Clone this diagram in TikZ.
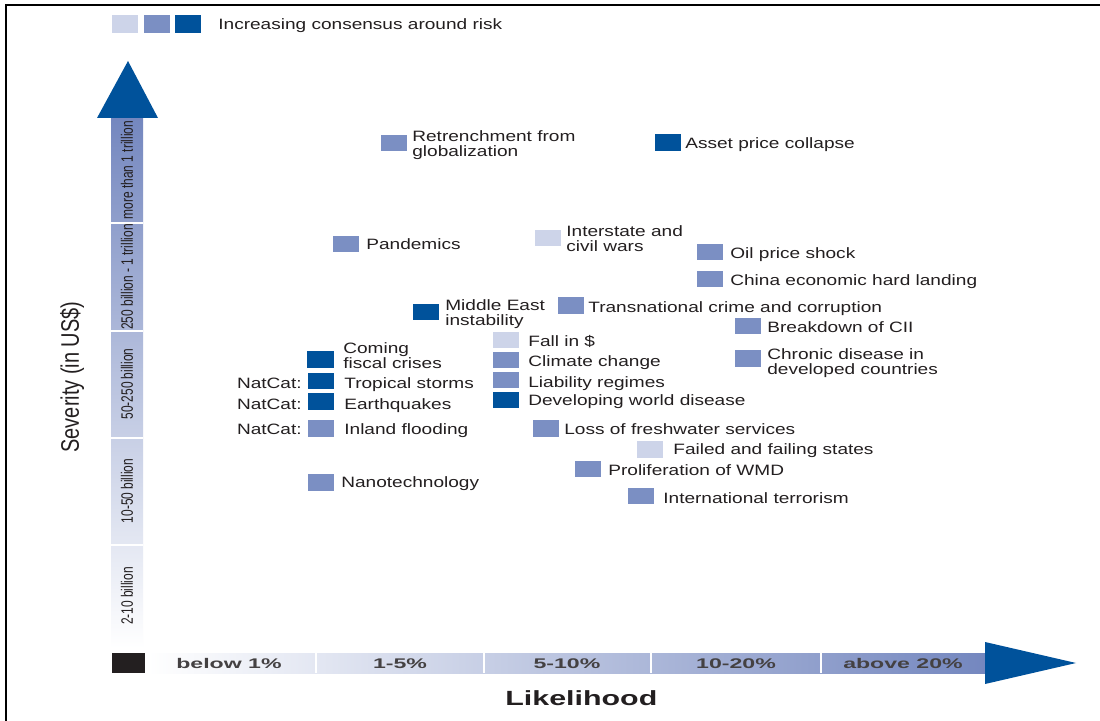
\documentclass[tikz,border=0pt]{standalone}
\usepackage{fontspec}
\setmainfont{Liberation Sans}
\usepackage{xcolor}

\definecolor{conslow}{HTML}{CDD4E9}
\definecolor{consmid}{HTML}{7B8FC3}
\definecolor{conshigh}{HTML}{00529B}
\definecolor{bardark}{HTML}{7487BF}
\definecolor{inkgray}{HTML}{231F20}

\begin{document}
\begin{tikzpicture}[
  x=0.025cm, y=-0.025cm,
  font=\fontsize{10.67}{10.67}\selectfont,
  riskbox/.style={rectangle, minimum width=0.65cm, minimum height=0.42cm,
    inner sep=0pt, outer sep=0pt},
  lowcons/.style={riskbox, fill=conslow},
  midcons/.style={riskbox, fill=consmid},
  highcons/.style={riskbox, fill=conshigh},
  risklbl/.style={anchor=base west, inner sep=0pt, xscale=1.27, text=inkgray},
  risklbltwo/.style={anchor=north west, inner sep=0pt, xscale=1.27,
    align=left, text=inkgray},
  natlbl/.style={anchor=base east, inner sep=0pt, xscale=1.27, text=inkgray},
  bandlbl/.style={rotate=90, inner sep=0pt, text=inkgray,
    font=\fontsize{9.25}{9.25}\selectfont},
  scalelbl/.style={anchor=base, inner sep=0pt, xscale=1.65, text=inkgray!85,
    font=\bfseries\fontsize{9.96}{9.96}\selectfont},
  bandsep/.style={white, line width=0.04cm}
]
\useasboundingbox (0,0) rectangle (1100,721);
\fill[white] (0,0) rectangle (1100,721);

% frame (only left and top edges are visible)
\draw[line width=0.05cm] (6,740) -- (6,5) -- (1120,5);

% =========================================================================
% Legend
% =========================================================================
\node[riskbox, fill=conslow,  minimum width=0.66cm, minimum height=0.45cm] (leglow)  at (125,24) {};
\node[riskbox, fill=consmid,  minimum width=0.64cm, minimum height=0.45cm] (legmid)  at (157,24) {};
\node[riskbox, fill=conshigh, minimum width=0.66cm, minimum height=0.45cm] (leghigh) at (188,24) {};
\node[risklbl] (legtxt) at (218,30) {Increasing consensus around risk};

% =========================================================================
% Axes
% =========================================================================
% severity bar
\shade[bottom color=white, top color=bardark] (111,118) rectangle (143,648);
\foreach \yy in {223,331,438,545}
  \draw[bandsep] (111,\yy) -- (143,\yy);
\fill[conshigh] (97,118) -- (158,118) -- (128,61) -- cycle;

\node[bandlbl] (sev1) at (127,170) {\scalebox{0.92}[1.27]{more than 1 trillion}};
\node[bandlbl] (sev2) at (127,277) {\scalebox{0.92}[1.27]{250 billion - 1 trillion}};
\node[bandlbl] (sev3) at (127,384) {\scalebox{0.92}[1.27]{50-250 billion}};
\node[bandlbl] (sev4) at (127,491) {\scalebox{0.92}[1.27]{10-50 billion}};
\node[bandlbl] (sev5) at (127,596) {\scalebox{0.92}[1.27]{2-10 billion}};

\node[rotate=90, inner sep=0pt, text=inkgray, font=\fontsize{14.2}{14.2}\selectfont]
  (sevtitle) at (72,377) {\scalebox{1}[1.27]{Severity (in US\$)}};

% likelihood bar
\fill[inkgray] (112,653) rectangle (145,673);
\shade[left color=white, right color=bardark] (148,653) rectangle (985,673);
\foreach \xx in {316,484,651,821}
  \draw[bandsep] (\xx,653) -- (\xx,673);
\fill[conshigh] (985,642) -- (985,684) -- (1076,663) -- cycle;

\node[scalelbl] (lik1) at (229,668) {below 1\%};
\node[scalelbl] (lik2) at (400,668) {1-5\%};
\node[scalelbl] (lik3) at (567,668) {5-10\%};
\node[scalelbl] (lik4) at (736,668) {10-20\%};
\node[scalelbl] (lik5) at (903,668) {above 20\%};

\node[anchor=base west, inner sep=0pt, xscale=1.48, text=inkgray,
  font=\bfseries\fontsize{14.6}{14.6}\selectfont] (liktitle) at (505,705) {Likelihood};

% =========================================================================
% Risks
% =========================================================================
\node[midcons]  (retrench) at (394,143) {};
\node[risklbltwo] (retrenchtxt) at (412,130.5) {Retrenchment from\\globalization};

\node[highcons] (asset) at (667.5,142.5) {};
\node[risklbl] (assettxt) at (685,148.5) {Asset price collapse};

\node[midcons]  (pandemic) at (346,244) {};
\node[risklbl] (pandemictxt) at (366,250) {Pandemics};

\node[lowcons]  (wars) at (547.5,238) {};
\node[risklbltwo] (warstxt) at (566,225.5) {Interstate and\\civil wars};

\node[midcons]  (oil) at (710,252) {};
\node[risklbl] (oiltxt) at (730,259) {Oil price shock};

\node[midcons]  (china) at (710,279) {};
\node[risklbl] (chinatxt) at (730,286) {China economic hard landing};

\node[highcons] (mideast) at (426,312) {};
\node[risklbltwo] (mideasttxt) at (445,299.5) {Middle East\\instability};

\node[midcons]  (crime) at (571,305.5) {};
\node[risklbl] (crimetxt) at (588,313) {Transnational crime and corruption};

\node[midcons]  (cii) at (748,326) {};
\node[risklbl] (ciitxt) at (767,333) {Breakdown of CII};

\node[midcons]  (chronic) at (748,358.5) {};
\node[risklbltwo] (chronictxt) at (767,348.5) {Chronic disease in\\developed countries};

\node[highcons] (fiscal) at (320.5,359.5) {};
\node[risklbltwo] (fiscaltxt) at (343,342.5) {Coming\\fiscal crises};

\node[highcons] (storms) at (321,381) {};
\node[risklbl] (stormstxt) at (344,389) {Tropical storms};
\node[natlbl] (stormsnat) at (302,389) {NatCat:};

\node[highcons] (quakes) at (321,401.5) {};
\node[risklbl] (quakestxt) at (344,410) {Earthquakes};
\node[natlbl] (quakesnat) at (302,410) {NatCat:};

\node[midcons]  (flood) at (321,428.5) {};
\node[risklbl] (floodtxt) at (344,435) {Inland flooding};
\node[natlbl] (floodnat) at (302,435) {NatCat:};

\node[midcons]  (nano) at (321,482.5) {};
\node[risklbl] (nanotxt) at (341,488) {Nanotechnology};

\node[lowcons]  (dollar) at (506,340) {};
\node[risklbl] (dollartxt) at (528,347) {Fall in \$};

\node[midcons]  (climate) at (506,360) {};
\node[risklbl] (climatetxt) at (528,367) {Climate change};

\node[midcons]  (liability) at (506,380) {};
\node[risklbl] (liabilitytxt) at (528,388) {Liability regimes};

\node[highcons] (devdisease) at (506,400) {};
\node[risklbl] (devdiseasetxt) at (528,406) {Developing world disease};

\node[midcons]  (water) at (546,428.5) {};
\node[risklbl] (watertxt) at (564,435) {Loss of freshwater services};

\node[lowcons]  (failed) at (650,449.5) {};
\node[risklbl] (failedtxt) at (673,454.5) {Failed and failing states};

\node[midcons]  (wmd) at (588,469) {};
\node[risklbl] (wmdtxt) at (608,476) {Proliferation of WMD};

\node[midcons]  (terror) at (641,496) {};
\node[risklbl] (terrortxt) at (663,503) {International terrorism};

\end{tikzpicture}
\end{document}
